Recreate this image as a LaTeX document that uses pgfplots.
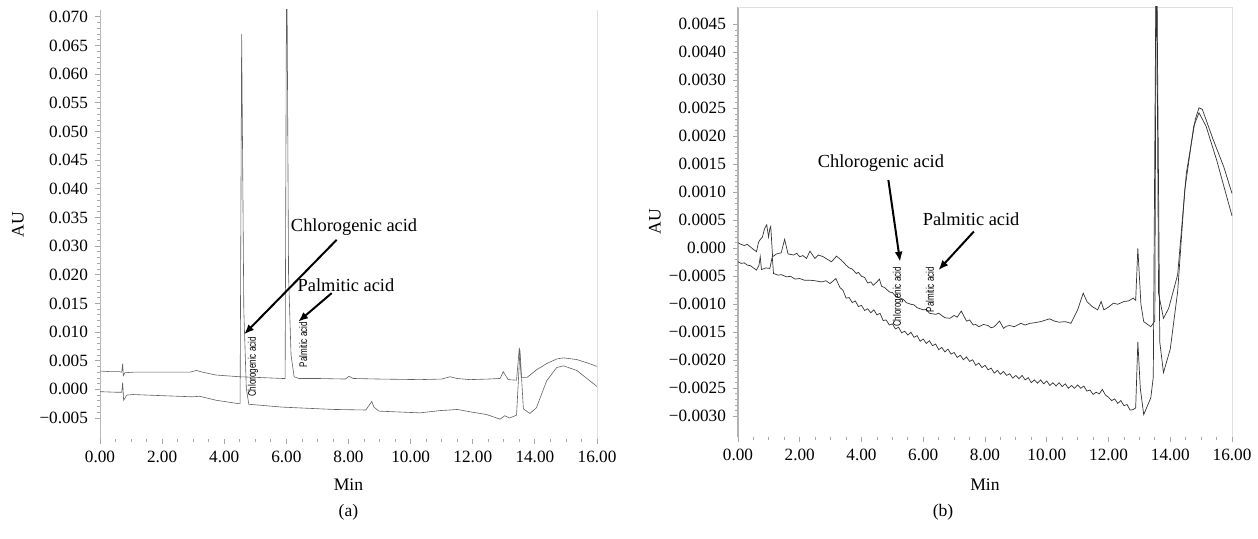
\documentclass[border=0pt]{standalone}
\usepackage{fontspec}
\setmainfont{Liberation Serif}
\newfontfamily\smallsans{Liberation Sans}
\usepackage{pgfplots}
\pgfplotsset{compat=1.18}
\usetikzlibrary{arrows.meta}

\begin{document}
\begin{tikzpicture}
\path[use as bounding box] (0,0) rectangle (629pt,269.5pt);
\tikzset{
 note/.style={font=\fontsize{9.2}{11}\selectfont},
 arr/.style={-{Latex[length=5pt,width=4pt]}, line width=1pt, black},
 tiny/.style={font=\smallsans\fontsize{5.5}{6}\selectfont, rotate=90, inner sep=0pt},
}
\pgfplotsset{
 chrom/.style={
  scale only axis, xmin=0, xmax=16,
  clip mode=individual,
  axis line style={draw=none},
  tick align=outside,
  tick style={gray!70, line width=0.4pt},
  major tick length=2.5pt, minor tick length=1.3pt,
  xtick={0,2,4,6,8,10,12,14,16}, minor x tick num=3,
  xticklabels={0.00,2.00,4.00,6.00,8.00,10.00,12.00,14.00,16.00},
  ytick pos=left, xtick pos=bottom,
  minor y tick num=4,
  ticklabel style={font=\fontsize{8.6}{10}\selectfont, text=black},
  label style={font=\fontsize{8.8}{10}\selectfont},
  xlabel={Min}, ylabel={AU},
 },
 traceA/.style={black!62, line width=0.3pt, mark=none},
 traceB/.style={black!80, line width=0.35pt, mark=none},
}
% ---------------- (a) ----------------
\begin{axis}[chrom,
  at={(50pt,50pt)}, anchor=south west,
  width=248.5pt, height=214.5pt,
  ymin=-0.00866, ymax=0.0662,
  ytick={-0.005,0,0.005,0.010,0.015,0.020,0.025,0.030,0.035,0.040,0.045,0.050,0.055,0.060,0.065},
  yticklabels={−0.005,0.000,0.005,0.010,0.015,0.020,0.030,0.035,0.040,0.045,0.050,0.055,0.060,0.065,0.070},
  xlabel style={at={(axis description cs:0.5,-0.107)}, anchor=center},
  ylabel style={at={(axis description cs:-0.165,0.5)}, anchor=center},
]
\draw[gray!55, line width=0.5pt] (rel axis cs:0,0) -- (rel axis cs:0,1);
\draw[gray!25, line width=0.4pt] (rel axis cs:1,0) -- (rel axis cs:1,1);
\addplot[traceA] coordinates {
(0,0.0032) (0.3,0.0031) (0.6,0.0031) (0.70,0.0030) (0.73,0.0045) (0.75,0.0024) (0.80,0.0029) (1.07,0.0030) (2.0,0.0030) (2.9,0.0030) (3.1,0.0033) (3.3,0.0030) (3.74,0.0025) (4.5,0.0022) (5.0,0.0021) (5.88,0.0019) (5.96,0.0019) (6.01,0.0800) (6.07,0.020) (6.15,0.0060) (6.25,0.0022) (6.4,0.0019) (7.0,0.0019) (7.9,0.0018) (8.02,0.0023) (8.15,0.0019) (9.0,0.0018) (10.3,0.0017) (11.0,0.0018) (11.27,0.0022) (11.5,0.0019) (11.9,0.0017) (12.5,0.0018) (12.88,0.0019) (12.98,0.0031) (13.14,0.0017) (13.41,0.0016) (13.50,0.0073) (13.56,0.0021) (13.75,0.0021) (14.05,0.0034) (14.38,0.0045) (14.7,0.0053) (14.92,0.0055) (15.35,0.0052) (15.7,0.0046) (16.0,0.0040)
};
\addplot[traceA] coordinates {
(0,-0.0004) (0.5,-0.0005) (0.70,-0.0005) (0.73,0.0012) (0.76,-0.0019) (0.86,-0.0010) (1.07,-0.0009) (2.0,-0.0011) (3.0,-0.0013) (3.2,-0.0012) (3.74,-0.0019) (4.47,-0.0025) (4.51,-0.0025) (4.56,0.062) (4.63,0.0137) (4.71,0.0002) (4.79,-0.0026) (5.88,-0.0031) (7.49,-0.0035) (8.56,-0.0036) (8.75,-0.0021) (8.82,-0.0031) (8.98,-0.0038) (10.3,-0.0041) (10.95,-0.0037) (11.27,-0.0036) (11.5,-0.0035) (11.9,-0.0039) (12.45,-0.0044) (12.88,-0.0052) (13.03,-0.0046) (13.19,-0.0050) (13.41,-0.0045) (13.52,0.0068) (13.63,-0.0034) (13.84,-0.0042) (14.05,-0.0032) (14.38,0.0015) (14.7,0.0038) (14.92,0.0041) (15.35,0.0033) (16.0,0.0005)
};
\node[note] at (axis cs:8.18,0.0284) {Chlorogenic acid};
\draw[arr] (axis cs:7.62,0.0261) -- (axis cs:4.64,0.0096);
\node[note] at (axis cs:7.92,0.0181) {Palmitic acid};
\draw[arr] (axis cs:7.46,0.0168) -- (axis cs:6.38,0.0118);
\node[tiny] at (axis cs:4.93,0.0039) {\scalebox{0.73}[1]{Chlorogenic acid}};
\node[tiny] at (axis cs:6.54,0.0078) {\scalebox{0.73}[1]{Palmitic acid}};
\node[font=\fontsize{8.8}{10}\selectfont] at (axis description cs:0.5,-0.170) {(a)};
\end{axis}
% ---------------- (b) ----------------
\begin{axis}[chrom,
  at={(369pt,51pt)}, anchor=south west,
  width=247pt, height=215pt,
  ymin=-0.00337, ymax=0.00431,
  ytick={-0.0030,-0.0025,-0.0020,-0.0015,-0.0010,-0.0005,0,0.0005,0.0010,0.0015,0.0020,0.0025,0.0030,0.0035,0.0040},
  yticklabels={−0.0030,−0.0025,−0.0020,−0.0015,−0.0010,−0.0005,0.000,0.0005,0.0010,0.0015,0.0020,0.0025,0.0030,0.0040,0.0045},
  xlabel style={at={(axis description cs:0.5,-0.112)}, anchor=center},
  ylabel style={at={(axis description cs:-0.168,0.5)}, anchor=center},
]
\draw[gray!60, line width=0.6pt] (rel axis cs:0,0) -- (rel axis cs:0,1);
\draw[gray!25, line width=0.4pt] (rel axis cs:0,1) -- (rel axis cs:1,1) -- (rel axis cs:1,0);
\addplot[traceB] coordinates {
(0,0.0001) (0.1,0.00007) (0.2,0.00005) (0.3,0.00007) (0.39,0.00003) (0.5,-0.00002) (0.60,-0.00006) (0.66,0.0001) (0.71,0.00015) (0.79,0.0002) (0.86,0.00035) (0.93,0.00042) (0.99,0.0002) (1.03,0.00035) (1.06,0.00039) (1.12,-0.00015) (1.25,-0.0001) (1.4,-0.00008) (1.51,0.00016) (1.62,-0.0001) (1.8,-0.00012) (1.9,-0.00009) (2.0,-0.00015) (2.1,-0.00013) (2.22,-0.00018) (2.33,-0.00005) (2.49,-0.00018) (2.6,-0.00012) (2.76,-0.00015) (2.9,-0.0002) (3.03,-0.00024) (3.19,-0.00014) (3.30,-0.00019) (3.40,-0.00024) (3.5,-0.00030) (3.6,-0.00035) (3.7,-0.00037) (3.83,-0.00045) (3.9,-0.00043) (4.0,-0.00050) (4.1,-0.00052) (4.2,-0.00062) (4.3,-0.00060) (4.38,-0.00066) (4.5,-0.0006) (4.58,-0.00055) (4.65,-0.00068) (4.75,-0.00070) (4.9,-0.00078) (5.0,-0.00079) (5.1,-0.00085) (5.25,-0.00089) (5.35,-0.00091) (5.45,-0.00097) (5.6,-0.00100) (5.7,-0.00101) (5.8,-0.00106) (6.0,-0.0011) (6.1,-0.00109) (6.2,-0.00116) (6.4,-0.00118) (6.5,-0.00116) (6.7,-0.00124) (6.86,-0.00125) (7.0,-0.0012) (7.1,-0.00123) (7.23,-0.00112) (7.4,-0.0013) (7.5,-0.00128) (7.62,-0.00137) (7.7,-0.00136) (7.8,-0.0014) (7.95,-0.00136) (8.1,-0.00138) (8.2,-0.00142) (8.3,-0.0014) (8.47,-0.00130) (8.6,-0.00143) (8.7,-0.00139) (8.8,-0.00138) (8.95,-0.00140) (9.16,-0.00134) (9.3,-0.00137) (9.45,-0.00134) (9.6,-0.00133) (9.8,-0.00131) (10.09,-0.00126) (10.25,-0.00130) (10.4,-0.00132) (10.6,-0.00131) (10.78,-0.00134) (11.0,-0.0011) (11.18,-0.0008) (11.3,-0.00095) (11.47,-0.00104) (11.65,-0.0011) (11.76,-0.00095) (11.85,-0.0011) (12.0,-0.00105) (12.16,-0.00098) (12.3,-0.00100) (12.5,-0.00095) (12.65,-0.00094) (12.80,-0.00089) (12.88,-0.00093) (12.95,0.0000) (13.05,-0.0010) (13.14,-0.00131) (13.37,-0.0014) (13.5,-0.0013) (13.55,0.0060) (13.62,-0.0008) (13.78,-0.00125) (13.95,-0.00107) (14.24,-0.00047) (14.52,0.00134) (14.81,0.0023) (14.93,0.00251) (15.04,0.00248) (15.39,0.00194) (15.73,0.00146) (16.0,0.00098)
};
\addplot[traceB] coordinates {
(0,-0.00024) (0.1,-0.00027) (0.2,-0.00026) (0.3,-0.0003) (0.4,-0.00031) (0.5,-0.00035) (0.6,-0.00039) (0.68,-0.0003) (0.72,-0.00015) (0.76,-0.00038) (0.9,-0.00035) (1.03,-0.00036) (1.11,-0.00015) (1.15,-0.00045) (1.3,-0.00048) (1.4,-0.00047) (1.57,-0.00051) (1.7,-0.00050) (1.85,-0.00055) (2.0,-0.00054) (2.15,-0.00057) (2.33,-0.00057) (2.5,-0.00058) (2.7,-0.0006) (2.85,-0.00058) (2.98,-0.00063) (3.17,-0.00054) (3.3,-0.0007) (3.4,-0.00075) (3.5,-0.00089) (3.6,-0.00088) (3.7,-0.00097) (3.8,-0.00094) (3.9,-0.00104) (4.0,-0.00102) (4.1,-0.00111) (4.2,-0.00108) (4.3,-0.00115) (4.4,-0.00110) (4.5,-0.00119) (4.6,-0.00116) (4.7,-0.00129) (4.8,-0.00128) (4.9,-0.00137) (5.0,-0.00135) (5.1,-0.00144) (5.2,-0.00141) (5.3,-0.00151) (5.4,-0.00148) (5.5,-0.00155) (5.6,-0.00150) (5.7,-0.00159) (5.8,-0.00156) (5.9,-0.00166) (6.0,-0.00162) (6.1,-0.00170) (6.2,-0.00165) (6.3,-0.00174) (6.4,-0.00171) (6.5,-0.00181) (6.6,-0.00177) (6.7,-0.00185) (6.8,-0.00180) (6.9,-0.00189) (7.0,-0.00186) (7.1,-0.00195) (7.2,-0.00191) (7.3,-0.00199) (7.4,-0.00194) (7.5,-0.00202) (7.6,-0.00199) (7.7,-0.00209) (7.8,-0.00205) (7.9,-0.00213) (8.0,-0.00209) (8.1,-0.00217) (8.2,-0.00214) (8.3,-0.00223) (8.4,-0.00218) (8.5,-0.00225) (8.6,-0.00220) (8.7,-0.00227) (8.8,-0.00224) (8.9,-0.00232) (9.0,-0.00227) (9.1,-0.00233) (9.2,-0.00227) (9.3,-0.00235) (9.4,-0.00231) (9.5,-0.00240) (9.6,-0.00235) (9.7,-0.00241) (9.8,-0.00235) (9.9,-0.00242) (10.0,-0.00237) (10.1,-0.00245) (10.2,-0.00240) (10.3,-0.00246) (10.4,-0.00240) (10.5,-0.00247) (10.6,-0.00242) (10.7,-0.00250) (10.8,-0.00245) (10.9,-0.00250) (11.0,-0.00244) (11.1,-0.00250) (11.2,-0.00246) (11.3,-0.00255) (11.4,-0.00253) (11.5,-0.00261) (11.6,-0.00257) (11.7,-0.00260) (11.8,-0.00252) (11.9,-0.00262) (12.0,-0.00266) (12.1,-0.00272) (12.2,-0.00269) (12.3,-0.00277) (12.4,-0.00272) (12.5,-0.00281) (12.6,-0.00279) (12.7,-0.00289) (12.80,-0.00288) (12.88,-0.00285) (12.95,-0.00167) (13.03,-0.0025) (13.14,-0.00297) (13.37,-0.00267) (13.45,-0.0023) (13.55,0.0060) (13.66,-0.00167) (13.78,-0.00222) (14.0,-0.0018) (14.24,-0.00077) (14.47,0.00104) (14.76,0.00218) (14.93,0.00242) (15.16,0.00218) (15.5,0.00158) (16.0,0.00058)
};
\node[note] at (axis cs:4.63,0.00152) {Chlorogenic acid};
\draw[arr] (axis cs:4.87,0.00122) -- (axis cs:5.25,-0.00024);
\node[note] at (axis cs:7.55,0.00052) {Palmitic acid};
\draw[arr] (axis cs:7.64,0.0003) -- (axis cs:6.49,-0.00039);
\node[tiny] at (axis cs:5.18,-0.00087) {\scalebox{0.73}[1]{Chlorogenic acid}};
\node[tiny] at (axis cs:6.22,-0.00074) {\scalebox{0.73}[1]{Palmitic acid}};
\node[font=\fontsize{8.8}{10}\selectfont] at (axis description cs:0.415,-0.175) {(b)};
\end{axis}
\end{tikzpicture}
\end{document}
